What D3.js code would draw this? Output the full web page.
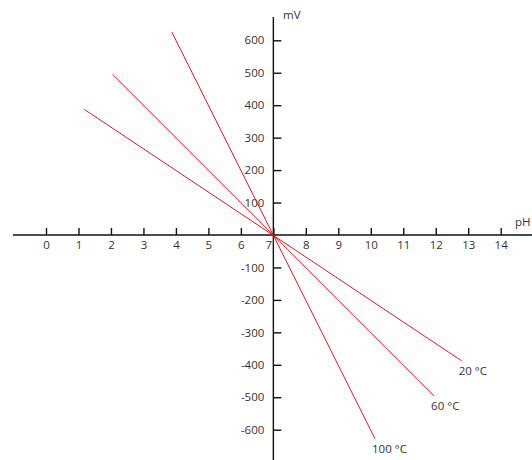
<!DOCTYPE html>
<html lang="en">
<head>
    <meta charset="UTF-8">
    <title>mV vs pH</title>
    <style>
        body { margin: 0; background: #fff; }
        svg text { font-family: "Open Sans", "DejaVu Sans", sans-serif; font-size: 11.5px; fill: #333; }
        .axis path, .axis line { stroke: #111; stroke-width: 1.4px; }
        .probe { fill: none; stroke: #f0141e; stroke-width: 1px; }
    </style>
</head>
<body>
    <svg id="chart" width="532" height="460"></svg>
    <script src="https://d3js.org/d3.v7.min.js"></script>
    <script>
        // pH ticks and mV ticks
        const phTicks = [0, 1, 2, 3, 4, 5, 6, 7, 8, 9, 10, 11, 12, 13, 14];
        const mvTicks = [600, 500, 400, 300, 200, 100, -100, -200, -300, -400, -500, -600];

        // each temperature line: start and end point
        const temps = ["20 °C", "60 °C", "100 °C"];
        const phStart = [1.18, 2.05, 3.87];
        const mvStart = [387, 495, 626];
        const phEnd = [12.8, 11.95, 10.13];
        const mvEnd = [-388, -496, -628];

        const svg = d3.select("#chart");
        const W = 532, H = 460;

        const x = d3.scaleLinear().domain([0, 14]).range([46, 500.7]);
        const y = d3.scaleLinear().domain([-600, 600]).range([429.7, 40.3]);

        // plain hyphen for negatives, like the original
        const fmt = d => String(d);

        // horizontal axis
        const xAxis = svg.append("g")
            .attr("class", "axis")
            .attr("transform", "translate(0," + y(0) + ")")
            .call(d3.axisBottom(x).tickValues(phTicks).tickFormat(fmt).tickSize(-7).tickPadding(6));
        xAxis.select(".domain").remove();
        xAxis.append("line").attr("x1", 13).attr("x2", W);
        xAxis.selectAll(".tick text")
            .filter(d => d === 7)
            .attr("dx", -5);

        // vertical axis
        const yAxis = svg.append("g")
            .attr("class", "axis")
            .attr("transform", "translate(" + x(7) + ",0)")
            .call(d3.axisLeft(y).tickValues(mvTicks).tickFormat(fmt).tickSize(-8).tickPadding(9));
        yAxis.select(".domain").remove();
        yAxis.append("line").attr("y1", 17).attr("y2", H);

        svg.append("text").attr("x", 515).attr("y", 226).text("pH");
        svg.append("text").attr("x", 283).attr("y", 19).text("mV");

        // lines
        svg.selectAll(".probe")
            .data(temps)
            .enter().append("line")
            .attr("class", "probe")
            .attr("x1", (d, i) => x(phStart[i]))
            .attr("y1", (d, i) => y(mvStart[i]))
            .attr("x2", (d, i) => x(phEnd[i]))
            .attr("y2", (d, i) => y(mvEnd[i]));

        // labels under the lower end of each line
        svg.selectAll(".tlabel")
            .data(temps)
            .enter().append("text")
            .attr("class", "tlabel")
            .attr("x", (d, i) => x(phEnd[i]) - 3)
            .attr("y", (d, i) => y(mvEnd[i]) + 14)
            .text(d => d);
    </script>
</body>
</html>
